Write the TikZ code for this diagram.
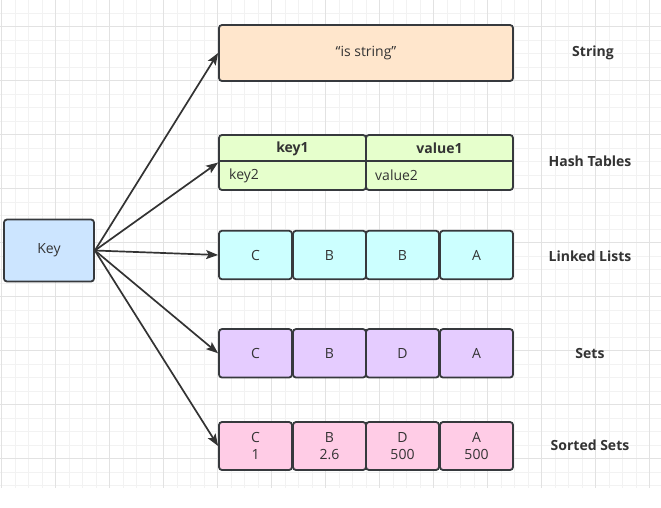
\documentclass[tikz,border=0pt]{standalone}
\usepackage{fontspec}
\setmainfont{Open Sans}
\usetikzlibrary{arrows.meta}
\definecolor{strokec}{HTML}{36393D}
\definecolor{txt}{HTML}{333333}
\definecolor{gridminor}{HTML}{F2F2F2}
\definecolor{gridmajor}{HTML}{E2E2E2}
\definecolor{keyfill}{HTML}{CCE5FF}
\definecolor{strfill}{HTML}{FFE6CC}
\definecolor{hashfill}{HTML}{E6FFCC}
\definecolor{listfill}{HTML}{CCFFFF}
\definecolor{setfill}{HTML}{E5CCFF}
\definecolor{zsetfill}{HTML}{FFCCE6}
\tikzset{
  box/.style={draw=strokec, line width=1.8pt, rounded corners=3pt, inner sep=0pt, text=txt, font=\fontsize{14}{17}\selectfont, align=center},
  cellbox/.style={box, minimum width=73pt, minimum height=48.5pt},
  typelabel/.style={text=txt, font=\bfseries\fontsize{14}{17}\selectfont},
  conn/.style={draw=txt, line width=1.7pt, -{Stealth[length=12pt,width=9pt,inset=2.5pt]}},
  plain/.style={text=txt, font=\fontsize{14}{17}\selectfont, inner sep=0pt}
}
\begin{document}
\begin{tikzpicture}[x=1pt,y=-1pt]
\useasboundingbox (0,0) rectangle (661,507);
\fill[white] (0,0) rectangle (661,507);
% grid
\begin{scope}
\clip (0,0) rectangle (661,488);
\foreach \i in {0,...,49} {
  \draw[gridminor, line width=0.9pt] ({1.7+13.5*\i},0) -- ({1.7+13.5*\i},488);
}
\foreach \j in {0,...,36} {
  \draw[gridminor, line width=0.9pt] (0,{-0.3+13.5*\j}) -- (661,{-0.3+13.5*\j});
}
\foreach \i in {0,...,12} {
  \draw[gridmajor, line width=0.9pt] ({1.7+54*\i},0) -- ({1.7+54*\i},488);
}
\foreach \j in {0,...,9} {
  \draw[gridmajor, line width=0.9pt] (0,{26.7+54*\j}) -- (661,{26.7+54*\j});
}
\end{scope}

% key
\node[box, fill=keyfill, minimum width=90pt, minimum height=62pt] (key) at (49,250.5) {Key};

% string
\node[box, fill=strfill, minimum width=294pt, minimum height=56pt] (str) at (366,53) {“is string”};

% hash table
\node[box, fill=hashfill, minimum width=147pt, minimum height=55pt] (hk) at (292.5,162.5) {};
\node[box, fill=hashfill, minimum width=147pt, minimum height=55pt] (hv) at (439.5,162.5) {};
\draw[strokec, line width=1.8pt] ([yshift=-27pt]hk.north west) -- ([yshift=-27pt]hk.north east);
\draw[strokec, line width=1.8pt] ([yshift=-27pt]hv.north west) -- ([yshift=-27pt]hv.north east);
\node[plain, font=\bfseries\fontsize{14}{17}\selectfont] (k1) at (292.5,148.5) {key1};
\node[plain, font=\bfseries\fontsize{14}{17}\selectfont] (v1) at (439.5,148) {value1};
\node[plain, anchor=west] (k2) at (229,176) {key2};
\node[plain, anchor=west] (v2) at (375,175) {value2};

% linked list
\node[cellbox, fill=listfill] (l1) at (255.5,255) {C};
\node[cellbox, fill=listfill] (l2) at (329.5,255) {B};
\node[cellbox, fill=listfill] (l3) at (402.5,255) {B};
\node[cellbox, fill=listfill] (l4) at (476.5,255) {A};

% sets
\node[cellbox, fill=setfill] (s1) at (255.5,353.3) {C};
\node[cellbox, fill=setfill] (s2) at (329.5,353.3) {B};
\node[cellbox, fill=setfill] (s3) at (402.5,353.3) {D};
\node[cellbox, fill=setfill] (s4) at (476.5,353.3) {A};

% sorted sets
\node[cellbox, fill=zsetfill, minimum height=48pt] (z1) at (255.5,446) {C\\1};
\node[cellbox, fill=zsetfill, minimum height=48pt] (z2) at (329.5,446) {B\\2.6};
\node[cellbox, fill=zsetfill, minimum height=48pt] (z3) at (402.5,446) {D\\500};
\node[cellbox, fill=zsetfill, minimum height=48pt] (z4) at (476.5,446) {A\\500};

% type labels
\node[typelabel] (tstr) at (593,52.5) {String};
\node[typelabel] (thash) at (590,161.5) {Hash Tables};
\node[typelabel] (tlist) at (590,256) {Linked Lists};
\node[typelabel] (tset) at (590,353.5) {Sets};
\node[typelabel] (tzset) at (590,445.5) {Sorted Sets};

% connectors
\coordinate (ko) at (key.east);
\draw[conn] (ko) -- (str.west);
\draw[conn] (ko) -- (hk.west);
\draw[conn] (ko) -- (l1.west);
\draw[conn] (ko) -- (s1.west);
\draw[conn] (ko) -- (z1.west);
\end{tikzpicture}
\end{document}
